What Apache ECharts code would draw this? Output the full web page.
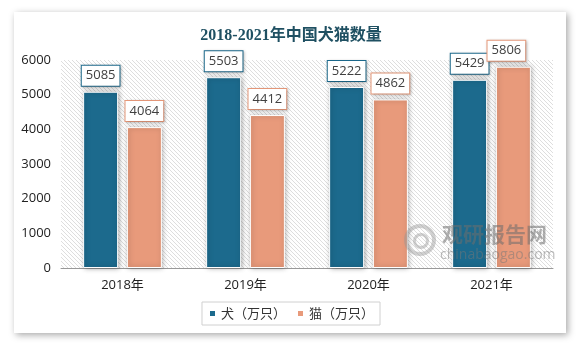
<!DOCTYPE html>
<html>
<head>
<meta charset="utf-8">
<script src="https://cdn.jsdelivr.net/npm/echarts@6/dist/echarts.min.js"></script>
<style>
html,body{margin:0;padding:0;background:#fff;}
#c{width:582px;height:348px;}
</style>
</head>
<body>
<div id="c"></div>
<script>
var categories = ['2018年', '2019年', '2020年', '2021年'];
var dogValues = [5085, 5503, 5222, 5429];
var catValues = [4064, 4412, 4862, 5806];
var seriesNames = ['犬（万只）', '猫（万只）'];
var titleText = '2018-2021年中国犬猫数量';

var dogColor = '#1c6a8d';
var catColor = '#e89a7b';

// hatch pattern
var pc = document.createElement('canvas');
pc.width = 4; pc.height = 4;
var g = pc.getContext('2d');
g.fillStyle = '#ffffff';
g.fillRect(0, 0, 4, 4);
g.strokeStyle = '#d6d6d6';
g.lineWidth = 0.8;
g.beginPath();
g.moveTo(0, 0); g.lineTo(4, 4);
g.moveTo(-1, 3); g.lineTo(1, 5);
g.moveTo(3, -1); g.lineTo(5, 1);
g.stroke();

var chart = echarts.init(document.getElementById('c'), null, {renderer: 'canvas'});

var labelBase = {
  show: true,
  position: 'top',
  distance: 6,
  backgroundColor: '#fff',
  borderWidth: 1,
  padding: [3, 4, 3, 4],
  fontSize: 13,
  lineHeight: 14,
  color: '#404040',
  fontFamily: 'Open Sans, Liberation Sans, sans-serif',
  shadowColor: 'rgba(0,0,0,0.25)',
  shadowBlur: 3,
  shadowOffsetX: 1,
  shadowOffsetY: 1
};

var catData = catValues.map(function (v, i) {
  var d = {value: v};
  if (i === 3) d.label = {offset: [-7, 0]};
  return d;
});

var option = {
  animation: false,
  backgroundColor: '#fff',
  title: {
    text: titleText,
    left: 'center',
    top: 23,
    textStyle: {
      fontSize: 16,
      fontWeight: 'bold',
      color: '#1f5062',
      fontFamily: 'Liberation Serif, Noto Sans CJK SC, serif'
    }
  },
  graphic: [
    {
      type: 'rect', z: -10, silent: true,
      shape: {x: 14, y: 12, width: 552, height: 321},
      style: {fill: '#fff', shadowColor: 'rgba(0,0,0,0.35)', shadowBlur: 7, shadowOffsetX: 2, shadowOffsetY: 2}
    },
    {
      type: 'ring', z: 100, silent: true,
      shape: {cx: 420, cy: 240, r: 16, r0: 12},
      style: {fill: 'rgba(150,150,150,0.45)'}
    },
    {
      type: 'ring', z: 100, silent: true,
      shape: {cx: 421, cy: 241, r: 8, r0: 5},
      style: {fill: 'rgba(150,150,150,0.45)'}
    },
    {
      type: 'text', z: 100, silent: true,
      left: 442, top: 224,
      style: {
        text: '观研报告网',
        fontSize: 21,
        fontWeight: 'bold',
        fill: 'rgba(110,110,110,0.55)',
        fontFamily: 'Noto Sans CJK SC'
      }
    },
    {
      type: 'text', z: 100, silent: true,
      left: 440, top: 248,
      style: {
        text: 'chinabaogao.com',
        fontSize: 14,
        fill: 'rgba(120,120,120,0.5)',
        fontFamily: 'Open Sans, Liberation Sans, sans-serif'
      }
    }
  ],
  legend: {
    data: seriesNames,
    left: 'center',
    top: 302,
    icon: 'rect',
    itemWidth: 7,
    itemHeight: 7,
    itemGap: 10,
    padding: [5, 6, 5, 6],
    borderColor: '#d0d0d0',
    borderWidth: 1,
    textStyle: {fontSize: 13, color: '#333', fontFamily: 'Noto Sans CJK SC'}
  },
  grid: {
    left: 61, right: 29, top: 60, bottom: 80,
    show: true,
    borderWidth: 0,
    backgroundColor: {image: pc, repeat: 'repeat'}
  },
  xAxis: {
    type: 'category',
    data: categories,
    axisLine: {lineStyle: {color: '#999'}},
    axisTick: {show: false},
    axisLabel: {fontSize: 13, color: '#222', margin: 11, fontFamily: 'Open Sans, Noto Sans CJK SC, sans-serif'}
  },
  yAxis: {
    type: 'value',
    min: 0, max: 6000, interval: 1000,
    axisLine: {show: false},
    axisTick: {show: false},
    splitLine: {show: false},
    axisLabel: {
      fontSize: 13, color: '#222', margin: 10,
      fontFamily: 'Open Sans, Liberation Sans, sans-serif',
      formatter: function (v) { return String(v); }
    }
  },
  series: [
    {
      name: seriesNames[0],
      type: 'bar',
      data: dogValues,
      barWidth: 35,
      barGap: '25%',
      itemStyle: {
        color: dogColor,
        borderColor: '#fff', borderWidth: 1,
        shadowColor: 'rgba(0,0,0,0.35)', shadowBlur: 5, shadowOffsetX: 1, shadowOffsetY: 0
      },
      label: Object.assign({}, labelBase, {borderColor: dogColor})
    },
    {
      name: seriesNames[1],
      type: 'bar',
      data: catData,
      barWidth: 35,
      barGap: '25%',
      itemStyle: {
        color: catColor,
        borderColor: '#fff', borderWidth: 1,
        shadowColor: 'rgba(0,0,0,0.35)', shadowBlur: 5, shadowOffsetX: 1, shadowOffsetY: 0
      },
      label: Object.assign({}, labelBase, {borderColor: catColor})
    }
  ]
};
chart.setOption(option);
</script>
</body>
</html>
